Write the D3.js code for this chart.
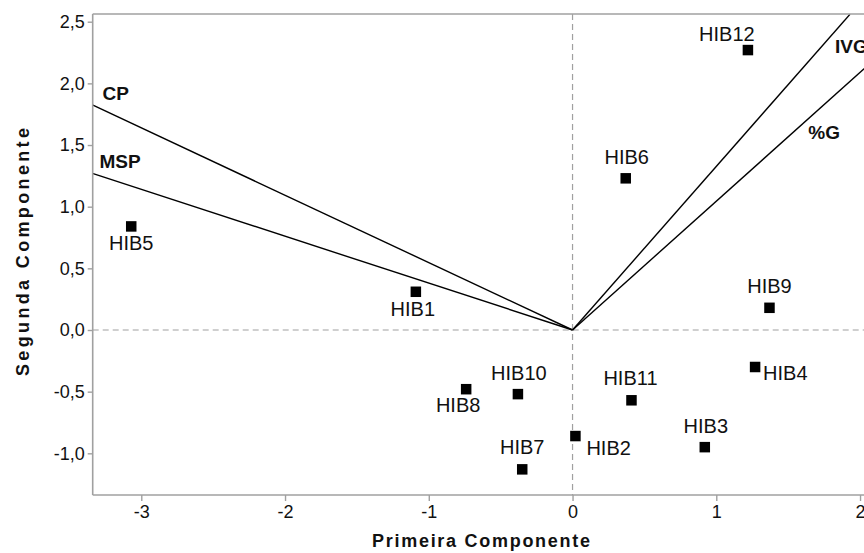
<!DOCTYPE html>
<html>
<head>
<meta charset="utf-8">
<script src="https://cdn.jsdelivr.net/npm/d3@7"></script>
<style>
  html, body { margin: 0; padding: 0; background: #fff; overflow: hidden; }
  svg { display: block; }
  text { font-family: "Liberation Sans", Arial, sans-serif; }
</style>
</head>
<body>
<svg id="chart" width="864" height="553"></svg>
<script>
// ---- data ----
const hybrids = ["HIB1","HIB2","HIB3","HIB4","HIB5","HIB6","HIB7","HIB8","HIB9","HIB10","HIB11","HIB12"];
const pc1 = [-1.09, 0.02, 0.92, 1.27, -3.07, 0.37, -0.35, -0.74, 1.37, -0.38, 0.41, 1.22];
const pc2 = [0.31, -0.86, -0.95, -0.30, 0.84, 1.23, -1.13, -0.48, 0.18, -0.52, -0.57, 2.27];

const variables = ["CP", "MSP", "IVG", "%G"];
const varPc1 = [-3.34, -3.34, 1.93, 2.03];
const varPc2 = [1.825, 1.27, 2.56, 2.12];

const xTicks = [-3, -2, -1, 0, 1, 2];
const yTicks = [-1.0, -0.5, 0.0, 0.5, 1.0, 1.5, 2.0, 2.5];

// label placement (pixels relative to the point): [dx, dy, anchor]
const labelPlace = {
  HIB1: [-3, 24, "middle"], HIB2: [11, 19, "start"], HIB3: [1, -14, "middle"],
  HIB4: [8, 13, "start"], HIB5: [0, 24, "middle"], HIB6: [1, -14, "middle"],
  HIB7: [0, -15, "middle"], HIB8: [-8, 23, "middle"], HIB9: [0, -15, "middle"],
  HIB10: [1, -14, "middle"], HIB11: [-1, -15, "middle"], HIB12: [-21, -9, "middle"]
};
const varLabelPlace = { CP: [10, -5], MSP: [7, -5], IVG: [-15, 39], "%G": [-56, 70] };

// ---- layout ----
const svg = d3.select("#chart");
const x = d3.scaleLinear().domain([-3.338, 2.25]).range([92.7, 92.7 + 5.588 * 143.75]);
const y = d3.scaleLinear().domain([-1.338, 2.5625]).range([495, 14]);
const pLeft = x.range()[0], pRight = x.range()[1], pTop = y.range()[1], pBottom = y.range()[0];
const frameColor = "#a0a0a0";

svg.append("defs").append("clipPath").attr("id", "plotclip")
  .append("rect").attr("x", pLeft).attr("y", pTop).attr("width", pRight - pLeft).attr("height", pBottom - pTop);

// dashed reference lines
svg.append("line").attr("x1", x(0)).attr("x2", x(0)).attr("y1", pTop).attr("y2", pBottom)
  .attr("stroke", "#a0a0a0").attr("stroke-width", 1.2).attr("stroke-dasharray", "6,4");
svg.append("line").attr("x1", pLeft).attr("x2", pRight).attr("y1", y(0)).attr("y2", y(0))
  .attr("stroke", "#a0a0a0").attr("stroke-width", 1.2).attr("stroke-dasharray", "6,4");

// vectors
const vg = svg.append("g").attr("clip-path", "url(#plotclip)");
variables.forEach((v, i) => {
  vg.append("line").attr("x1", x(0)).attr("y1", y(0)).attr("x2", x(varPc1[i])).attr("y2", y(varPc2[i]))
    .attr("stroke", "#000").attr("stroke-width", 1.4);
});
variables.forEach((v, i) => {
  const p = varLabelPlace[v];
  svg.append("text").attr("x", x(varPc1[i]) + p[0]).attr("y", y(varPc2[i]) + p[1])
    .attr("font-size", 19).attr("font-weight", "bold").attr("fill", "#111").text(v);
});

// frame: top line, left & bottom axes
svg.append("line").attr("x1", pLeft).attr("x2", pRight).attr("y1", pTop).attr("y2", pTop)
  .attr("stroke", frameColor).attr("stroke-width", 1.6);

const yAxis = d3.axisLeft(y).tickValues(yTicks).tickSize(5).tickPadding(3)
  .tickFormat(d => d3.format(".1f")(d).replace(".", ",").replace("−", "-"));
const gy = svg.append("g").attr("transform", `translate(${pLeft},0)`).call(yAxis);
gy.select(".domain").attr("d", `M0,${pTop}V${pBottom}`);

const xAxis = d3.axisBottom(x).tickValues(xTicks).tickSize(6).tickPadding(4)
  .tickFormat(d => d3.format("d")(d).replace("−", "-"));
const gx = svg.append("g").attr("transform", `translate(0,${pBottom})`).call(xAxis);
gx.select(".domain").attr("d", `M${pLeft},0H${pRight}`);

[gx, gy].forEach(g => {
  g.select(".domain").attr("stroke", frameColor).attr("stroke-width", 1.6);
  g.selectAll(".tick line").attr("stroke", frameColor).attr("stroke-width", 1.4);
  g.selectAll(".tick text").attr("font-size", 18).attr("fill", "#111")
    .attr("font-family", "'Liberation Sans', Arial, sans-serif");
});

// points
svg.append("g").selectAll("rect").data(hybrids).join("rect")
  .attr("x", (d, i) => x(pc1[i]) - 5.25).attr("y", (d, i) => y(pc2[i]) - 5.25)
  .attr("width", 10.5).attr("height", 10.5).attr("fill", "#000");

svg.append("g").selectAll("text").data(hybrids).join("text")
  .attr("x", (d, i) => x(pc1[i]) + labelPlace[d][0])
  .attr("y", (d, i) => y(pc2[i]) + labelPlace[d][1])
  .attr("text-anchor", d => labelPlace[d][2])
  .attr("font-size", 20).attr("fill", "#111").text(d => d);

// axis titles
svg.append("text").attr("x", 481).attr("y", 547).attr("text-anchor", "middle")
  .attr("font-size", 18).attr("font-weight", "bold").attr("fill", "#111")
  .attr("textLength", 218).attr("lengthAdjust", "spacing").text("Primeira Componente");
svg.append("text").attr("transform", "translate(29,252) rotate(-90)").attr("text-anchor", "middle")
  .attr("font-size", 18).attr("font-weight", "bold").attr("fill", "#111")
  .attr("textLength", 248).attr("lengthAdjust", "spacing").text("Segunda Componente");
</script>
</body>
</html>
